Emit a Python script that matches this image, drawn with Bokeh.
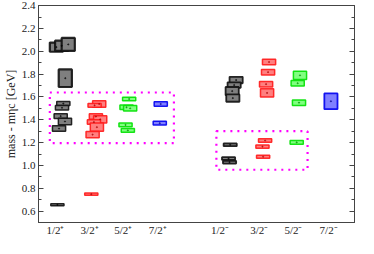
from bokeh.plotting import figure
from bokeh.models import (Range1d, LinearAxis, FixedTicker, SingleIntervalTicker, ColumnDataSource,
                          PrintfTickFormatter, CustomLabelingPolicy)
from bokeh.embed import file_html
from bokeh.resources import INLINE

# ---- data (masses relative to eta_c, GeV) ----
# positive parity
gray_p_x = [0.83, 0.99, 1.19, 1.10, 1.04, 1.00, 0.96, 1.09, 0.91, 0.86]
gray_p_y = [2.036, 2.048, 2.060, 1.764, 1.542, 1.505, 1.432, 1.385, 1.323, 0.655]
gray_p_e = [0.040, 0.045, 0.057, 0.077, 0.018, 0.020, 0.020, 0.028, 0.024, 0.009]

red_p_x = [2.13, 1.99, 2.03, 2.16, 1.97, 2.06, 1.93, 1.89]
red_p_y = [1.538, 1.526, 1.428, 1.404, 1.380, 1.335, 1.270, 0.748]
red_p_e = [0.028, 0.016, 0.024, 0.032, 0.020, 0.036, 0.028, 0.010]

green_p_x = [3.04, 2.96, 3.07, 2.93, 3.00]
green_p_y = [1.582, 1.509, 1.500, 1.355, 1.307]
green_p_e = [0.016, 0.020, 0.024, 0.016, 0.016]

blue_p_x = [4.00, 3.97]
blue_p_y = [1.538, 1.370]
blue_p_e = [0.020, 0.016]

# negative parity
gray_m_x = [6.29, 6.23, 6.17, 6.19, 6.11, 6.06, 6.09]
gray_m_y = [1.748, 1.704, 1.651, 1.590, 1.181, 1.060, 1.028]
gray_m_e = [0.028, 0.024, 0.036, 0.032, 0.012, 0.012, 0.012]

red_m_x = [7.29, 7.26, 7.20, 7.23, 7.17, 7.09, 7.11]
red_m_y = [1.906, 1.817, 1.712, 1.635, 1.218, 1.165, 1.076]
red_m_e = [0.024, 0.024, 0.024, 0.036, 0.016, 0.014, 0.014]

green_m_x = [8.23, 8.16, 8.20, 8.13]
green_m_y = [1.789, 1.720, 1.550, 1.202]
green_m_e = [0.036, 0.024, 0.024, 0.016]

blue_m_x = [9.17]
blue_m_y = [1.562]
blue_m_e = [0.069]

# dotted regions
region_left = [0.63, 5.69]
region_right = [4.40, 8.46]
region_bottom = [1.195, 0.962]
region_top = [1.639, 1.300]

# x tick labels
tick_pos = [0.80, 1.84, 2.86, 3.91, 5.80, 6.99, 8.03, 9.10]
tick_labels = ["1/2\u207a", "3/2\u207a", "5/2\u207a", "7/2\u207a",
               "1/2\u207b", "3/2\u207b", "5/2\u207b", "7/2\u207b"]

FONT = "Liberation Serif"
FRAME = "#444444"

p = figure(width=358, height=238, x_range=Range1d(0.286, 9.886), y_range=Range1d(0.5, 2.401),
           output_backend="svg", toolbar_location=None,
           min_border_left=0, min_border_right=1, min_border_top=5, min_border_bottom=0)
p.grid.visible = False
p.outline_line_color = FRAME
p.outline_line_width = 1
p.background_fill_color = "white"

# dotted regions
p.quad(left=region_left, right=region_right, bottom=region_bottom, top=region_top,
       fill_color=None, line_color="#ff00ff", line_width=2.2, line_dash="2 5")

BW = 0.40

def boxes(xs, ys, es, fill, line, lw=1.5, dot="#000000"):
    src = ColumnDataSource(dict(x=xs, y=ys, h=[2 * e for e in es]))
    p.rect(x="x", y="y", width=BW, height="h", source=src,
           fill_color=fill, fill_alpha=1.0, line_color=line, line_width=lw, line_alpha=0.9)
    p.scatter(x="x", y="y", source=src, size=1.2, color=dot, alpha=0.6)

boxes(gray_p_x[:4], gray_p_y[:4], gray_p_e[:4], "#7f7f7f", "#111111", lw=2.2)
boxes(gray_p_x[4:], gray_p_y[4:], gray_p_e[4:], "#7f7f7f", "#111111", lw=1.5)
boxes(red_p_x, red_p_y, red_p_e, "#ff7f7f", "#ff1a1a", dot="#aa0000")
boxes(green_p_x, green_p_y, green_p_e, "#80ff80", "#00e000", dot="#008800")
boxes(blue_p_x, blue_p_y, blue_p_e, "#8080ff", "#0000ee", dot="#000088")
boxes(gray_m_x, gray_m_y, gray_m_e, "#7f7f7f", "#111111", lw=1.8)
boxes(red_m_x, red_m_y, red_m_e, "#ff7f7f", "#ff1a1a", dot="#aa0000")
boxes(green_m_x, green_m_y, green_m_e, "#80ff80", "#00e000", dot="#008800")
boxes(blue_m_x, blue_m_y, blue_m_e, "#8080ff", "#0000ee", lw=1.8, dot="#000088")

# y axis (left)
ya = p.yaxis[0]
ya.ticker = SingleIntervalTicker(interval=0.2, num_minor_ticks=2)
ya.formatter = PrintfTickFormatter(format="%.1f")
ya.major_tick_in = 5
ya.major_tick_out = 0
ya.minor_tick_in = 3
ya.minor_tick_out = 0
ya.axis_line_color = FRAME
ya.major_tick_line_color = FRAME
ya.minor_tick_line_color = FRAME
ya.major_label_text_font = FONT
ya.major_label_text_font_size = "11px"
ya.major_label_text_color = "#222222"
ya.major_label_standoff = 3
ya.axis_label = "mass - m\u03b7c [GeV]"
ya.axis_label_text_font = FONT
ya.axis_label_text_font_size = "12px"
ya.axis_label_text_font_style = "normal"
ya.axis_label_text_color = "#222222"
ya.axis_label_standoff = 1

# right axis: ticks only, labels filtered out
hide_all = CustomLabelingPolicy(code="""
const out = indices;
try {
  for (const i of Array.from(indices)) {
    if (typeof out.unset === "function") out.unset(i); else out.set(i, false);
  }
} catch (e) {}
return out;
""")
ra = LinearAxis(ticker=SingleIntervalTicker(interval=0.2, num_minor_ticks=2))
ra.major_label_policy = hide_all
ra.major_tick_in = 5
ra.major_tick_out = 0
ra.minor_tick_in = 3
ra.minor_tick_out = 0
ra.axis_line_color = FRAME
ra.major_tick_line_color = FRAME
ra.minor_tick_line_color = FRAME
ra.major_label_text_font_size = "1px"
ra.major_label_standoff = 0
p.add_layout(ra, "right")

# x axis
xa = p.xaxis[0]
xa.ticker = FixedTicker(ticks=tick_pos)
xa.major_label_overrides = {t: l for t, l in zip(tick_pos, tick_labels)}
xa.major_tick_in = 0
xa.major_tick_out = 0
xa.minor_tick_in = 0
xa.minor_tick_out = 0
xa.axis_line_color = FRAME
xa.major_label_text_font = FONT
xa.major_label_text_font_size = "11px"
xa.major_label_text_color = "#222222"
xa.major_label_standoff = 1

open("out.html", "w").write(file_html(p, INLINE))
